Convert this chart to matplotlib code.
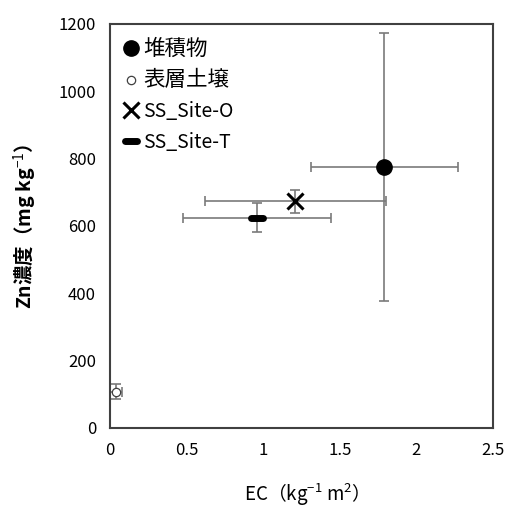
import matplotlib
matplotlib.use("Agg")
import matplotlib.pyplot as plt
from matplotlib.markers import MarkerStyle

plt.rcParams['font.family'] = ['Noto Sans CJK JP', 'DejaVu Sans']
plt.rcParams['mathtext.fontset'] = 'custom'
plt.rcParams['mathtext.rm'] = 'Noto Sans CJK JP'
plt.rcParams['mathtext.it'] = 'Noto Sans CJK JP'
plt.rcParams['mathtext.bf'] = 'Noto Sans CJK JP:bold'

labels = ["堆積物", "表層土壌", "SS_Site-O", "SS_Site-T"]
ec = [1.79, 0.04, 1.21, 0.96]
ec_err = [0.48, 0.04, 0.59, 0.48]
zn = [775, 108, 673, 625]
zn_err = [398, 22, 34, 44]

xticks = [0, 0.5, 1, 1.5, 2, 2.5]
xticklabels = ["0", "0.5", "1", "1.5", "2", "2.5"]
yticks = [0, 200, 400, 600, 800, 1000, 1200]

fig = plt.figure(figsize=(5.09, 5.07), dpi=100)
ax = fig.add_axes([0.216, 0.156, 0.7526, 0.7967])

styles = [
    dict(marker='o', markersize=11, markerfacecolor='black', markeredgecolor='black'),
    dict(marker='o', markersize=6, markerfacecolor='white', markeredgecolor='#404040', markeredgewidth=0.9),
    dict(marker='x', markersize=11, markeredgecolor='black', markeredgewidth=2.2),
    dict(marker=MarkerStyle('_', capstyle='round'), markersize=9, markeredgecolor='black', markeredgewidth=5),
]

for i in range(len(labels)):
    ax.errorbar(ec[i], zn[i], xerr=ec_err[i], yerr=zn_err[i], fmt='none',
                ecolor='#7a7a7a', elinewidth=1.2, capsize=3.5, capthick=1.2, zorder=2)
    ax.plot(ec[i], zn[i], linestyle='none', label=labels[i], zorder=3, **styles[i])

ax.set_xlim(0, 2.5)
ax.set_ylim(0, 1200)
ax.set_xticks(xticks)
ax.set_xticklabels(xticklabels)
ax.set_yticks(yticks)
ax.tick_params(length=0, labelsize=12, pad=10)
for s in ax.spines.values():
    s.set_color('#404040')
    s.set_linewidth(1.5)

ax.set_xlabel("EC（kg$^{-1}$ m$^{2}$）", fontsize=13.5, labelpad=16)
ax.set_ylabel("Zn濃度（mg kg$^{-1}$）", fontsize=14, fontweight='bold', labelpad=14)

leg = ax.legend(loc='upper left', frameon=False, fontsize=14, handlelength=0.8,
                handletextpad=0.2, labelspacing=0.5, borderaxespad=0.3)
for t in leg.get_texts()[:2]:
    t.set_fontsize(15.5)

fig.savefig("out.png", dpi=100)
